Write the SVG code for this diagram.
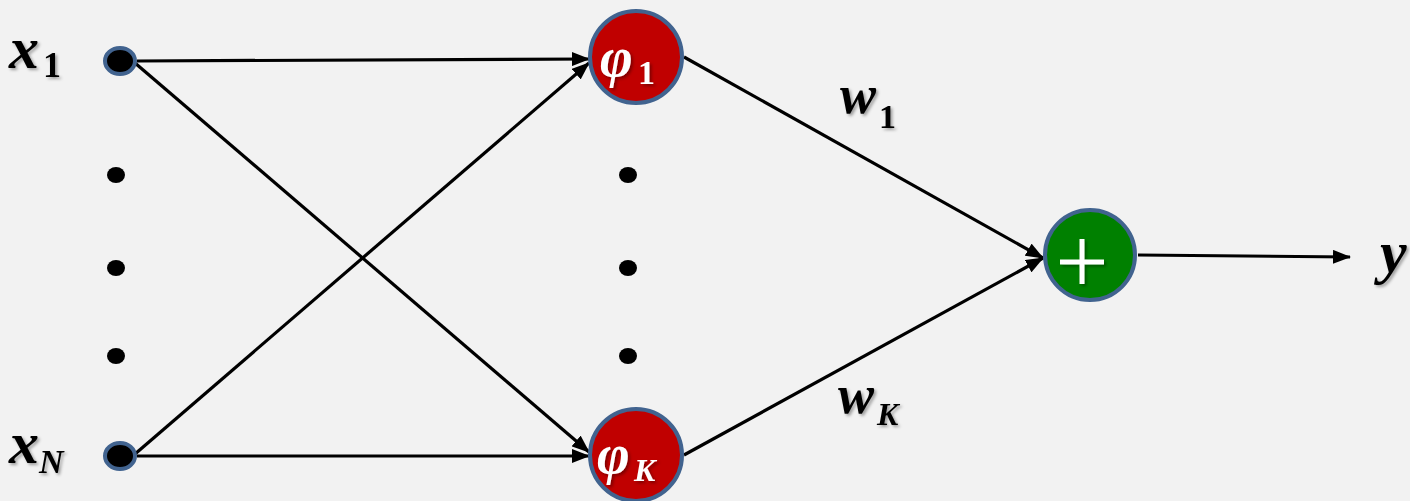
<svg xmlns="http://www.w3.org/2000/svg" width="1410" height="501" viewBox="0 0 1410 501">
  <style>
    .lbl { font-family: "Liberation Serif", "DejaVu Serif", serif; font-weight: bold; font-style: italic; fill: #000; }
    .wlbl { font-family: "Liberation Serif", "DejaVu Serif", serif; font-weight: bold; font-style: italic; fill: #fff; }
    .up { font-style: normal; }
    .edge { stroke: #000; stroke-width: 3.2; fill: none; }
    .inp { fill: #000; stroke: #41638f; stroke-width: 4; }
    .dot { fill: #000; }
    .rbf { fill: #c00000; stroke: #41638f; stroke-width: 4; }
    .sum { fill: #008000; stroke: #41638f; stroke-width: 4; }
  </style>
  <defs>
    <marker id="arrow" viewBox="0 0 18 14" refX="17" refY="7" markerWidth="18" markerHeight="14" markerUnits="userSpaceOnUse" orient="auto">
      <path d="M0,0 L18,7 L0,14 Z" fill="#000"/>
    </marker>
    <filter id="shadow" x="-20%" y="-20%" width="150%" height="150%">
      <feDropShadow dx="2" dy="2" stdDeviation="1.5" flood-color="#000" flood-opacity="0.35"/>
    </filter>
  </defs>

  <rect width="1410" height="501" fill="#f2f2f2"/>

  <!-- connectors -->
  <g id="connectors">
    <line class="edge" x1="137" y1="61" x2="589" y2="59" marker-end="url(#arrow)"/>
    <line class="edge" x1="135" y1="63" x2="589" y2="452" marker-end="url(#arrow)"/>
    <line class="edge" x1="135" y1="454" x2="589" y2="63" marker-end="url(#arrow)"/>
    <line class="edge" x1="137" y1="456" x2="589" y2="456" marker-end="url(#arrow)"/>
    <line class="edge" x1="684" y1="57" x2="1043" y2="258" marker-end="url(#arrow)"/>
    <line class="edge" x1="684" y1="455" x2="1043" y2="258" marker-end="url(#arrow)"/>
    <line class="edge" x1="1138" y1="255" x2="1350" y2="257" marker-end="url(#arrow)"/>
  </g>

  <!-- input x1 -->
  <g id="input-x1">
    <ellipse class="inp" cx="120" cy="61" rx="15" ry="13"/>
    <text class="lbl" filter="url(#shadow)" x="9" y="68" font-size="60">x</text>
    <text class="lbl up" filter="url(#shadow)" x="43" y="77" font-size="36">1</text>
  </g>

  <!-- elided inputs -->
  <g id="input-dots">
    <ellipse class="dot" cx="116" cy="175" rx="9" ry="8"/>
    <ellipse class="dot" cx="116" cy="268" rx="9" ry="8"/>
    <ellipse class="dot" cx="116" cy="356" rx="9" ry="8"/>
  </g>

  <!-- input xN -->
  <g id="input-xN">
    <ellipse class="inp" cx="120" cy="456" rx="15" ry="13"/>
    <text class="lbl" filter="url(#shadow)" x="9" y="463" font-size="60">x</text>
    <text class="lbl" filter="url(#shadow)" x="39" y="473" font-size="34">N</text>
  </g>

  <!-- hidden unit phi1 -->
  <g id="hidden-phi1">
    <circle class="rbf" cx="636" cy="57" r="46"/>
    <text class="wlbl" filter="url(#shadow)" x="600" y="76" font-size="56">φ</text>
    <text class="wlbl up" filter="url(#shadow)" x="638" y="84" font-size="34">1</text>
  </g>

  <!-- elided hidden units -->
  <g id="hidden-dots">
    <ellipse class="dot" cx="628" cy="175" rx="9" ry="8"/>
    <ellipse class="dot" cx="628" cy="268" rx="9" ry="8"/>
    <ellipse class="dot" cx="628" cy="356" rx="9" ry="8"/>
  </g>

  <!-- hidden unit phiK -->
  <g id="hidden-phiK">
    <circle class="rbf" cx="636" cy="455" r="46"/>
    <text class="wlbl" filter="url(#shadow)" x="597" y="473" font-size="56">φ</text>
    <text class="wlbl" filter="url(#shadow)" x="634" y="481" font-size="32">K</text>
  </g>

  <!-- weight labels -->
  <g id="weight-w1">
    <text class="lbl" filter="url(#shadow)" x="840" y="113" font-size="54">w</text>
    <text class="lbl up" filter="url(#shadow)" x="879" y="128" font-size="34">1</text>
  </g>
  <g id="weight-wK">
    <text class="lbl" filter="url(#shadow)" x="838" y="413" font-size="54">w</text>
    <text class="lbl" filter="url(#shadow)" x="877" y="425" font-size="32">K</text>
  </g>

  <!-- summation node -->
  <g id="sum-node">
    <circle class="sum" cx="1090" cy="255" r="45"/>
    <g filter="url(#shadow)" stroke="#fff" stroke-width="5">
      <line x1="1060" y1="262" x2="1104" y2="262"/>
      <line x1="1082" y1="239" x2="1082" y2="284"/>
    </g>
  </g>

  <!-- output y -->
  <g id="output-y">
    <text class="lbl" filter="url(#shadow)" x="1380" y="272" font-size="60">y</text>
  </g>
</svg>
